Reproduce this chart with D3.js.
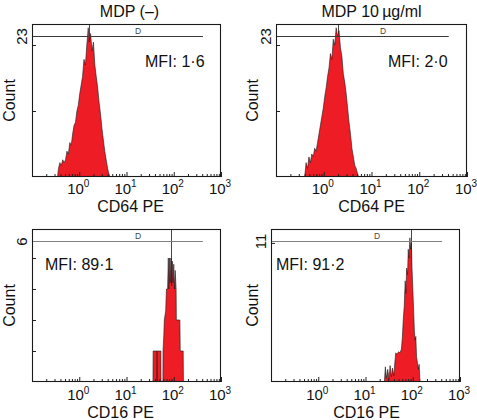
<!DOCTYPE html>
<html>
<head>
<meta charset="utf-8">
<script src="https://cdn.jsdelivr.net/npm/d3@7"></script>
<style>
  html, body { margin: 0; padding: 0; background: #fff; }
  svg { display: block; font-family: "Liberation Sans", Arial, Helvetica, sans-serif; }
</style>
</head>
<body>
<svg id="chart" width="477" height="420"></svg>
<script>
// ---------- DATA ----------
const columnTitles = ["MDP (\u2013)", "MDP 10\u2009\u00b5g/ml"];
const xAxisLabels = ["CD64 PE", "CD64 PE", "CD16 PE", "CD16 PE"];
const mfiValues = [1.6, 2.0, 89.1, 91.2];
const mfiLabels = ["MFI: 1\u00b76", "MFI: 2\u00b70", "MFI: 89\u00b71", "MFI: 91\u00b72"];
const yMaxLabels = ["23", "23", "6", "11"];
const yTickValues = [[11.5, 23], [11.5, 23], [1, 2, 3, 4], [11]];
const yDomainMax = [26.66, 26.66, 4.935, 12.1];
const gateLevels = [24.57, 24.57, 4.55, 11.15];
const gateRange = [0.1, 415];
const gateName = "D";
const gateLabelAt = 17.5;
const xDecadeExponents = [0, 1, 2, 3];
const xDomain = [0.1, 1000];

// histogram: log10(fluorescence) and counts
const cd64ControlLog = [-0.46,-0.44,-0.41,-0.38,-0.35,-0.32,-0.29,-0.26,-0.23,-0.20,-0.17,-0.14,-0.11,-0.08,-0.05,-0.02,0.01,0.04,0.07,0.10,0.13,0.16,0.19,0.21,0.24,0.27,0.30,0.33,0.36,0.39,0.42,0.45,0.48,0.51,0.54,0.57,0.60,0.63,0.65];
const cd64ControlCount = [0,1.5,2.5,2,3,2.5,3,4.5,4,6,5.5,7.5,9,9.5,11.5,12.5,14.5,16,17.5,20.5,19.5,23,26,23.5,25,22,23.5,19.5,17.5,15.5,13,11,8.5,6.5,4.5,3,1.5,0.5,0];

const cd64MdpLog = [-0.40,-0.37,-0.34,-0.31,-0.28,-0.25,-0.22,-0.19,-0.16,-0.13,-0.10,-0.07,-0.04,-0.01,0.02,0.05,0.08,0.11,0.14,0.17,0.20,0.23,0.26,0.29,0.32,0.35,0.38,0.41,0.44,0.47,0.50,0.53,0.56,0.59,0.62,0.65,0.68,0.71,0.73];
const cd64MdpCount = [0,2.5,1.5,3.5,2.5,4,3.5,5,4.5,6,7.5,9,10.5,12,14,15.5,17.5,19,21.5,20.5,24,23,26,24.5,25.5,22.5,21,18,16.5,14.5,12,9.5,7.5,5,3.5,2,1.5,0.5,0];

const cd16ControlLog = [1.560,1.564,1.645,1.647,1.649,1.728,1.730,1.770,1.773,1.79,1.80,1.83,1.845,1.87,1.885,1.895,1.91,1.925,1.94,1.955,1.97,1.985,2.0,2.015,2.03,2.05,2.055,2.13,2.137,2.20,2.205];
const cd16ControlCount = [0,1,1,0,1,1,0,0,1,1.5,2,2.3,3,3,4,3,4,3.2,4,3.1,3.9,3.2,3.8,3,3.6,3,2,2,1,1,0];

const cd16MdpLog = [1.40,1.42,1.44,1.47,1.50,1.52,1.55,1.57,1.60,1.62,1.64,1.67,1.70,1.73,1.76,1.78,1.80,1.82,1.84,1.855,1.87,1.89,1.905,1.92,1.94,1.955,1.97,1.985,2.0,2.02,2.035,2.05,2.065,2.08,2.10,2.12,2.135,2.15,2.16];
const cd16MdpCount = [0,1.2,0.3,1.0,0.2,1.3,0.4,1.1,0.5,1.5,2.3,2.2,2.4,2.3,2.6,3.5,5.0,6.0,8.0,7.0,9.0,8.5,10.5,9.8,11.4,10.5,11.0,9.0,7.5,5.5,4.0,3.3,3.6,2.0,1.5,1.0,1.4,0.3,0];

const histLogs = [cd64ControlLog, cd64MdpLog, cd16ControlLog, cd16MdpLog];
const histCounts = [cd64ControlCount, cd64MdpCount, cd16ControlCount, cd16MdpCount];

// ---------- LAYOUT ----------
const frames = [
  {x0: 32,  x1: 221, y0: 24,  y1: 177},
  {x0: 276, x1: 467, y0: 24,  y1: 177},
  {x0: 32,  x1: 221, y0: 229, y1: 382},
  {x0: 271, x1: 460, y0: 229, y1: 382}
];
const mfiPos = [{dx: 113, y: 67}, {dx: 112, y: 67}, {dx: 13, y: 270}, {dx: 5, y: 270}];
const countLabelOffset = [17.5, 18, 17.5, 13];
const tickLabelOffset = [16.5, 16.5, 18, 18];
const titleOffset = [35, 35, 35.5, 35.5];
const titleShift = [4, 0, -6, 1];
const red = "#ee1c24";

const svg = d3.select("#chart");

frames.forEach((f, i) => {
  const g = svg.append("g");
  const x = d3.scaleLog().domain(xDomain).range([f.x0, f.x1]);
  const y = d3.scaleLinear().domain([0, yDomainMax[i]]).range([f.y1, f.y0]);

  const clipId = "clip" + i;
  g.append("clipPath").attr("id", clipId).append("rect")
    .attr("x", f.x0).attr("y", f.y0).attr("width", f.x1 - f.x0).attr("height", f.y1 - f.y0);

  // MFI marker line (behind histogram)
  const mx = Math.round(x(mfiValues[i])) + 0.5;
  g.append("line")
    .attr("x1", mx).attr("x2", mx)
    .attr("y1", f.y0).attr("y2", f.y1)
    .attr("stroke", "#333").attr("stroke-width", 0.9);

  // histogram
  const data = histLogs[i].map((l, k) => ({f: Math.pow(10, l), c: histCounts[i][k]}));
  const area = d3.area().x(d => x(d.f)).y0(y(0)).y1(d => y(d.c));
  g.append("path").datum(data)
    .attr("clip-path", `url(#${clipId})`)
    .attr("d", area)
    .attr("fill", red)
    .attr("stroke", "#1a1a1a")
    .attr("stroke-width", 0.6)
    .attr("stroke-linejoin", "miter");

  // gate line
  const gy = Math.round(y(gateLevels[i])) + 0.5;
  const gateColor = i < 2 ? "#3a3a3a" : "#808080";
  g.append("line")
    .attr("x1", x(gateRange[0])).attr("x2", x(gateRange[1]))
    .attr("y1", gy).attr("y2", gy)
    .attr("stroke", gateColor).attr("stroke-width", 1.2);
  g.append("text")
    .attr("x", x(gateLabelAt)).attr("y", gy - 2.5)
    .attr("text-anchor", "middle")
    .attr("font-size", 8.5).attr("fill", "#444")
    .text(gateName);

  // x ticks (inward)
  const majors = xDecadeExponents.map(e => Math.pow(10, e));
  const minors = [];
  [-1, 0, 1, 2].forEach(e => { for (let m = 2; m <= 9; m++) minors.push(m * Math.pow(10, e)); });
  const axMinor = d3.axisBottom(x).tickValues(minors).tickSize(-3).tickFormat("");
  const axMajor = d3.axisBottom(x).tickValues(majors).tickSize(-5).tickFormat("");
  [axMinor, axMajor].forEach(ax => {
    const a = g.append("g").attr("transform", `translate(0,${f.y1})`).call(ax);
    a.select(".domain").remove();
    a.selectAll("line").attr("stroke", "#222").attr("stroke-width", 1);
  });

  // x tick labels 10^n
  majors.forEach((v, k) => {
    const t = g.append("text")
      .attr("x", x(v) - 1).attr("y", f.y1 + tickLabelOffset[i])
      .attr("text-anchor", "middle")
      .attr("font-size", 15).attr("fill", "#111");
    t.append("tspan").text("10");
    t.append("tspan").attr("font-size", 10).attr("dy", -6.5).text(String(xDecadeExponents[k]));
  });

  // y ticks (inward)
  const ay = g.append("g").attr("transform", `translate(${f.x0},0)`)
    .call(d3.axisLeft(y).tickValues(yTickValues[i]).tickSize(-4).tickFormat(""));
  ay.select(".domain").remove();
  ay.selectAll("line").attr("stroke", "#222").attr("stroke-width", 1);

  // frame
  g.append("rect")
    .attr("x", f.x0 + 0.5).attr("y", f.y0 + 0.5)
    .attr("width", f.x1 - f.x0 - 1).attr("height", f.y1 - f.y0 - 1)
    .attr("fill", "none").attr("stroke", "#1a1a1a").attr("stroke-width", 1.1);

  // y max label (rotated)
  g.append("text")
    .attr("transform", `translate(${f.x0 - 5.5},${gy}) rotate(-90)`)
    .attr("text-anchor", "middle")
    .attr("font-size", 15).attr("fill", "#111")
    .text(yMaxLabels[i]);

  // Count label
  g.append("text")
    .attr("transform", `translate(${f.x0 - countLabelOffset[i]},${(f.y0 + f.y1) / 2}) rotate(-90)`)
    .attr("text-anchor", "middle")
    .attr("font-size", 16).attr("fill", "#111")
    .text("Count");

  // x axis title
  g.append("text")
    .attr("x", (f.x0 + f.x1) / 2 + titleShift[i]).attr("y", f.y1 + titleOffset[i])
    .attr("text-anchor", "middle")
    .attr("font-size", 16).attr("fill", "#111")
    .text(xAxisLabels[i]);

  // MFI text
  g.append("text")
    .attr("x", f.x0 + mfiPos[i].dx).attr("y", mfiPos[i].y)
    .attr("font-size", 16).attr("fill", "#111")
    .text(mfiLabels[i]);

  // column titles
  if (i < 2) {
    g.append("text")
      .attr("x", (f.x0 + f.x1) / 2 + (i === 0 ? 3 : 0)).attr("y", 17)
      .attr("text-anchor", "middle")
      .attr("font-size", 16).attr("fill", "#111")
      .text(columnTitles[i]);
  }
});
</script>
</body>
</html>
